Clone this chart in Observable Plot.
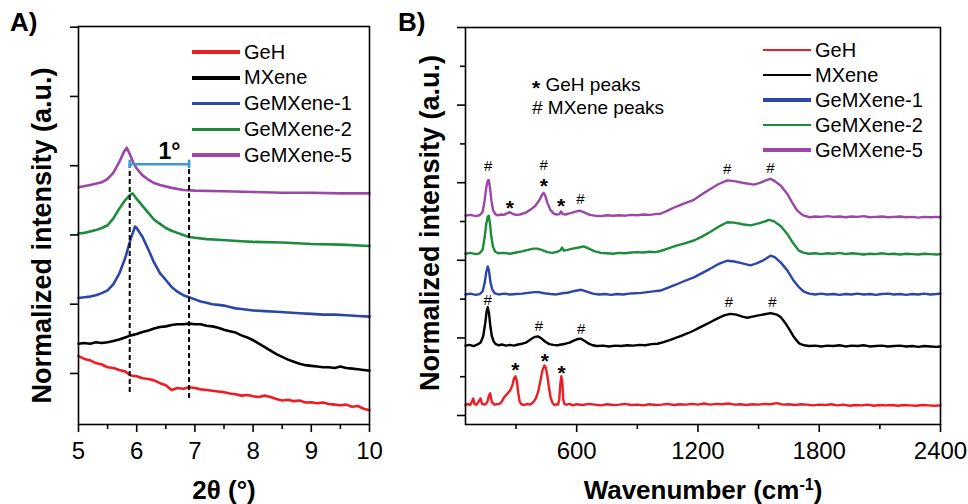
<!DOCTYPE html>
<html>
<head>
<meta charset="utf-8">
<script src="https://cdn.jsdelivr.net/npm/d3@7"></script>
<script src="https://cdn.jsdelivr.net/npm/@observablehq/plot@0.6"></script>
<style>
  body { margin: 0; background: #fff; }
  #fig { position: relative; width: 968px; height: 504px; overflow: hidden;
         font-family: "Liberation Sans", Arial, sans-serif; color: #000; }
  .panel { position: absolute; top: 0; }
  .plabel { position: absolute; font-weight: bold; font-size: 26px; line-height: 1; }
  .legrow { position: absolute; height: 24px; display: flex; align-items: center;
            font-size: 20px; white-space: nowrap; }
  .legrow .sw { display: inline-block; width: 48px; margin-right: 4px; }
  .note { position: absolute; font-size: 19px; line-height: 20px; height: 20px; white-space: nowrap; }
</style>
</head>
<body>
<div id="fig"></div>
<script>
// ---- series names and colours ----
const seriesNames = ["GeH", "MXene", "GeMXene-1", "GeMXene-2", "GeMXene-5"];
const seriesColors = ["#ee1d23", "#000000", "#2c46a8", "#1c8c3c", "#9c46a8"];

// ---- (A) XRD patterns: [2θ (°), offset normalized intensity] ----
const xrdGeH = [[5.0,1.25],[5.1,1.21],[5.2,1.19],[5.3,1.15],[5.4,1.13],[5.5,1.09],[5.6,1.08],[5.7,1.05],[5.8,1.03],[5.9,0.97],
  [6.0,0.96],[6.1,0.93],[6.2,0.92],[6.3,0.90],[6.4,0.86],[6.5,0.83],[6.6,0.76],[6.7,0.79],[6.8,0.78],[6.9,0.80],
  [7.0,0.79],[7.1,0.77],[7.2,0.76],[7.3,0.75],[7.4,0.74],[7.5,0.73],[7.6,0.71],[7.7,0.70],[7.8,0.68],[7.9,0.69],
  [8.0,0.67],[8.1,0.66],[8.2,0.68],[8.3,0.66],[8.4,0.63],[8.5,0.61],[8.6,0.62],[8.7,0.60],[8.8,0.61],[8.9,0.58],
  [9.0,0.585],[9.1,0.57],[9.2,0.58],[9.3,0.56],[9.4,0.55],[9.5,0.54],[9.6,0.55],[9.7,0.52],[9.8,0.53],[9.9,0.49],[10.0,0.47]];
const xrdMXene = [[5.0,1.43],[5.1,1.44],[5.2,1.43],[5.3,1.45],[5.4,1.44],[5.5,1.45],[5.6,1.47],[5.7,1.49],[5.8,1.52],[5.9,1.55],
  [6.0,1.57],[6.1,1.60],[6.2,1.62],[6.3,1.65],[6.4,1.67],[6.5,1.68],[6.6,1.70],[6.7,1.71],[6.8,1.71],[6.9,1.72],
  [7.0,1.71],[7.1,1.71],[7.2,1.69],[7.3,1.68],[7.4,1.66],[7.5,1.63],[7.6,1.61],[7.7,1.59],[7.8,1.55],[7.9,1.52],
  [8.0,1.48],[8.1,1.43],[8.2,1.38],[8.3,1.33],[8.4,1.28],[8.5,1.24],[8.6,1.20],[8.7,1.17],[8.8,1.14],[8.9,1.12],
  [9.0,1.11],[9.1,1.10],[9.2,1.09],[9.3,1.09],[9.4,1.08],[9.5,1.10],[9.6,1.08],[9.7,1.07],[9.8,1.06],[9.9,1.05],[10.0,1.04]];
const xrdGeMX1 = [[5.0,2.09],[5.1,2.10],[5.2,2.11],[5.3,2.13],[5.4,2.16],[5.5,2.20],[5.6,2.29],[5.7,2.44],[5.8,2.66],[5.9,2.95],
  [5.97,3.12],[6.0,3.10],[6.1,2.97],[6.2,2.79],[6.3,2.60],[6.4,2.45],[6.5,2.35],[6.6,2.25],[6.7,2.18],[6.8,2.13],
  [6.9,2.10],[7.0,2.07],[7.1,2.04],[7.2,2.02],[7.3,2.00],[7.4,1.99],[7.5,1.98],[7.6,1.96],[7.7,1.94],[7.8,1.93],
  [7.9,1.92],[8.0,1.91],[8.2,1.90],[8.4,1.89],[8.6,1.88],[8.8,1.87],[9.0,1.86],[9.2,1.85],[9.4,1.85],[9.6,1.84],[9.8,1.83],[10.0,1.82]];
const xrdGeMX2 = [[5.0,3.02],[5.1,3.03],[5.2,3.05],[5.3,3.07],[5.4,3.10],[5.5,3.14],[5.6,3.24],[5.7,3.38],[5.8,3.50],[5.9,3.59],
  [5.93,3.60],[6.0,3.52],[6.1,3.42],[6.2,3.32],[6.3,3.22],[6.4,3.16],[6.5,3.10],[6.6,3.06],[6.7,3.03],[6.8,3.00],
  [6.9,2.97],[7.0,2.96],[7.2,2.94],[7.4,2.93],[7.6,2.92],[7.8,2.91],[8.0,2.90],[8.5,2.89],[9.0,2.87],[9.5,2.86],[10.0,2.84]];
const xrdGeMX5 = [[5.0,3.69],[5.2,3.72],[5.4,3.76],[5.5,3.81],[5.6,3.90],[5.7,4.05],[5.78,4.20],[5.83,4.26],[5.88,4.17],[5.95,4.03],
  [6.0,3.96],[6.1,3.86],[6.2,3.80],[6.3,3.75],[6.4,3.72],[6.6,3.68],[6.8,3.65],[7.0,3.64],[7.5,3.63],[8.0,3.62],
  [8.5,3.61],[9.0,3.61],[9.5,3.60],[10.0,3.60]];

// interlayer-shift guide: two dashed positions and the bracket between them
const shiftGuides = [{x: 5.88, y1: 0.725, y2: 4.02}, {x: 6.9, y1: 0.64, y2: 4.02}];
const shiftBracket = {x1: 5.88, x2: 6.9, y: 4.02, label: "1°"};

// ---- (B) Raman spectra: [wavenumber (cm-1), offset normalized intensity] ----
const ramanGeH = [[50,0.27],[62,0.30],[72,0.27],[80,0.33],[88,0.44],[95,0.29],[105,0.28],[115,0.36],[124,0.44],[132,0.30],
  [145,0.28],[158,0.34],[166,0.52],[172,0.57],[180,0.35],[192,0.28],[205,0.29],[218,0.30],[230,0.36],[240,0.46],
  [250,0.52],[260,0.58],[272,0.66],[282,0.78],[290,0.95],[297,1.01],[304,0.90],[311,0.58],[318,0.36],[326,0.29],
  [340,0.27],[355,0.30],[370,0.28],[385,0.34],[398,0.44],[410,0.62],[421,0.90],[430,1.15],[440,1.29],[447,1.24],
  [455,1.02],[463,0.72],[471,0.47],[480,0.33],[490,0.27],[500,0.29],[508,0.28],[514,0.42],[519,0.80],[524,1.01],
  [529,0.85],[534,0.40],[540,0.29],[552,0.28],[565,0.30],[580,0.26],[600,0.29],[630,0.27],[660,0.30],[690,0.28],
  [720,0.26],[750,0.29],[780,0.27],[810,0.28],[840,0.30],[870,0.27],[900,0.28],[930,0.26],[960,0.29],[990,0.27],
  [1020,0.28],[1050,0.30],[1080,0.27],[1110,0.29],[1140,0.28],[1170,0.30],[1200,0.28],[1230,0.31],[1260,0.28],[1290,0.30],
  [1320,0.29],[1350,0.31],[1380,0.28],[1410,0.29],[1440,0.27],[1470,0.29],[1500,0.28],[1530,0.30],[1560,0.29],[1590,0.32],
  [1620,0.28],[1650,0.29],[1680,0.27],[1710,0.29],[1740,0.28],[1770,0.26],[1800,0.28],[1830,0.27],[1860,0.29],[1890,0.26],
  [1920,0.28],[1950,0.25],[1980,0.27],[2010,0.26],[2040,0.28],[2070,0.25],[2100,0.27],[2130,0.26],[2160,0.27],[2190,0.25],
  [2220,0.27],[2250,0.26],[2280,0.25],[2310,0.27],[2340,0.26],[2370,0.25],[2400,0.26]];
const ramanMXene = [[50,1.80],[70,1.82],[90,1.79],[110,1.83],[125,1.88],[138,2.05],[148,2.40],[155,2.70],[160,2.79],[166,2.65],
  [173,2.30],[180,2.05],[190,1.90],[200,1.84],[215,1.81],[230,1.83],[250,1.80],[270,1.82],[290,1.80],[310,1.83],
  [330,1.85],[350,1.88],[370,1.95],[390,2.02],[408,2.04],[425,1.99],[445,1.90],[465,1.84],[485,1.82],[505,1.81],
  [525,1.83],[545,1.85],[565,1.88],[585,1.93],[605,1.97],[622,1.98],[640,1.92],[660,1.85],[680,1.81],[700,1.79],
  [730,1.80],[760,1.78],[790,1.80],[820,1.79],[850,1.81],[880,1.80],[910,1.82],[940,1.81],[970,1.84],[1000,1.85],
  [1030,1.89],[1060,1.94],[1090,2.00],[1120,2.06],[1150,2.12],[1180,2.19],[1210,2.27],[1240,2.35],[1270,2.43],[1300,2.51],
  [1330,2.58],[1360,2.62],[1390,2.60],[1420,2.55],[1444,2.52],[1470,2.55],[1500,2.58],[1530,2.61],[1560,2.64],[1590,2.60],
  [1610,2.53],[1630,2.40],[1650,2.24],[1675,2.02],[1700,1.86],[1725,1.81],[1750,1.79],[1780,1.80],[1810,1.78],[1840,1.80],
  [1870,1.79],[1900,1.81],[1930,1.78],[1960,1.80],[1990,1.79],[2020,1.81],[2050,1.78],[2080,1.79],[2110,1.80],[2140,1.78],
  [2170,1.79],[2200,1.80],[2230,1.78],[2260,1.79],[2290,1.77],[2320,1.79],[2350,1.78],[2380,1.77],[2400,1.78]];
const ramanGeMX1 = [[50,3.12],[75,3.14],[100,3.11],[120,3.13],[135,3.20],[145,3.42],[153,3.70],[160,3.84],[166,3.74],[173,3.45],
  [182,3.25],[195,3.15],[215,3.12],[240,3.14],[270,3.12],[300,3.13],[330,3.14],[360,3.16],[390,3.18],[410,3.18],
  [440,3.15],[470,3.13],[500,3.12],[530,3.15],[560,3.17],[590,3.21],[622,3.24],[650,3.19],[680,3.14],[710,3.12],
  [740,3.13],[770,3.11],[800,3.13],[830,3.12],[860,3.14],[890,3.15],[920,3.16],[950,3.18],[980,3.20],[1015,3.22],
  [1050,3.29],[1090,3.37],[1130,3.46],[1180,3.56],[1220,3.67],[1260,3.78],[1300,3.90],[1345,3.99],[1380,3.97],[1420,3.92],
  [1460,3.87],[1490,3.92],[1520,3.99],[1559,4.12],[1580,4.08],[1610,3.94],[1642,3.74],[1670,3.50],[1699,3.31],[1725,3.19],
  [1750,3.14],[1780,3.12],[1810,3.14],[1840,3.12],[1870,3.13],[1900,3.11],[1930,3.13],[1960,3.12],[1990,3.14],[2020,3.12],
  [2050,3.13],[2080,3.11],[2110,3.13],[2140,3.14],[2170,3.12],[2200,3.13],[2230,3.11],[2260,3.13],[2290,3.12],[2320,3.14],
  [2350,3.12],[2380,3.13],[2400,3.14]];
const ramanGeMX2 = [[50,4.17],[75,4.19],[100,4.16],[120,4.18],[135,4.28],[145,4.60],[153,4.95],[160,5.12],[165,5.15],[171,4.95],
  [178,4.60],[186,4.35],[197,4.22],[215,4.18],[240,4.19],[270,4.17],[300,4.20],[330,4.23],[360,4.27],[385,4.30],
  [405,4.30],[430,4.26],[455,4.21],[480,4.19],[505,4.22],[520,4.26],[528,4.33],[536,4.25],[555,4.27],[580,4.30],
  [610,4.33],[635,4.36],[660,4.30],[690,4.23],[720,4.19],[750,4.18],[780,4.17],[810,4.19],[840,4.18],[870,4.20],
  [900,4.21],[930,4.20],[960,4.22],[990,4.21],[1015,4.24],[1050,4.30],[1090,4.37],[1130,4.43],[1180,4.51],[1220,4.61],
  [1260,4.73],[1300,4.86],[1345,4.98],[1380,4.97],[1420,4.93],[1460,4.90],[1500,4.95],[1530,5.00],[1551,5.04],[1575,5.01],
  [1610,4.88],[1642,4.68],[1670,4.45],[1699,4.25],[1725,4.19],[1750,4.17],[1780,4.18],[1810,4.16],[1840,4.18],[1870,4.17],
  [1900,4.19],[1930,4.16],[1960,4.18],[1990,4.17],[2020,4.15],[2050,4.17],[2080,4.16],[2110,4.18],[2140,4.16],[2170,4.17],
  [2200,4.15],[2230,4.17],[2260,4.16],[2290,4.15],[2320,4.17],[2350,4.16],[2380,4.15],[2400,4.16]];
const ramanGeMX5 = [[50,5.15],[75,5.17],[100,5.14],[120,5.16],[135,5.25],[145,5.55],[153,5.88],[160,6.05],[165,6.07],[171,5.88],
  [178,5.55],[186,5.30],[197,5.19],[210,5.16],[225,5.18],[240,5.17],[255,5.21],[269,5.24],[282,5.20],[300,5.17],
  [320,5.18],[345,5.22],[370,5.30],[395,5.40],[415,5.55],[430,5.70],[437,5.74],[445,5.66],[455,5.48],[470,5.30],
  [485,5.21],[500,5.18],[515,5.19],[523,5.26],[531,5.19],[545,5.18],[565,5.21],[590,5.25],[615,5.28],[640,5.23],
  [665,5.17],[690,5.15],[720,5.14],[750,5.16],[780,5.15],[810,5.16],[840,5.15],[870,5.17],[900,5.16],[930,5.18],
  [960,5.17],[990,5.19],[1015,5.20],[1050,5.28],[1090,5.38],[1130,5.46],[1180,5.56],[1220,5.70],[1262,5.84],[1300,5.96],
  [1345,6.06],[1380,6.04],[1420,6.00],[1477,5.95],[1510,6.00],[1535,6.06],[1559,6.10],[1580,6.04],[1610,5.92],[1642,5.71],
  [1665,5.50],[1691,5.28],[1720,5.16],[1754,5.11],[1780,5.13],[1810,5.12],[1840,5.14],[1870,5.12],[1900,5.13],[1930,5.11],
  [1960,5.13],[1990,5.12],[2020,5.14],[2050,5.11],[2080,5.12],[2110,5.13],[2140,5.11],[2170,5.12],[2200,5.13],[2230,5.11],
  [2260,5.12],[2290,5.10],[2320,5.12],[2350,5.11],[2380,5.12],[2400,5.11]];

// peak assignments: # = MXene, * = GeH  ([wavenumber, label height])
const mxenePeakMarks = [[162,6.42],[437,6.44],[619,5.58],[1345,6.36],[1559,6.38],
                        [160,2.96],[413,2.30],[622,2.22],[1353,2.92],[1568,2.92]];
const gehPeakMarks = [[269,5.47],[437,6.04],[523,5.52],[297,1.29],[442,1.52],[525,1.23]];

// ---- axis ticks ----
const xrdMajorX = [5, 6, 7, 8, 9, 10];
const xrdMinorX = [5.5, 6.5, 7.5, 8.5, 9.5];
const xrdTicksY = [1, 2, 3, 4, 5, 6];
const ramanMajorX = [600, 1200, 1800, 2400];
const ramanMinorX = [300, 900, 1500, 2100];
const ramanMajorY = [0, 2, 4, 6, 8, 10];
const ramanMinorY = [1, 3, 5, 7, 9];

const FONT = '"Liberation Sans", Arial, sans-serif';
const colorScale = {domain: seriesNames, range: seriesColors, legend: false};
const plain = d => String(d);
const blank = () => "";

function toRows(lists) {
  return lists.flatMap((pts, i) => pts.map(([x, y]) => ({series: seriesNames[i], x, y})));
}
const xrdRows = toRows([xrdGeH, xrdMXene, xrdGeMX1, xrdGeMX2, xrdGeMX5]);
const ramanRows = toRows([ramanGeH, ramanMXene, ramanGeMX1, ramanGeMX2, ramanGeMX5]);

const fig = document.getElementById("fig");

// ---------- panel A ----------
const plotA = Plot.plot({
  width: 400, height: 504,
  marginLeft: 78, marginRight: 31, marginTop: 26, marginBottom: 80,
  style: {fontFamily: FONT, color: "#000", background: "transparent", overflow: "visible"},
  x: {domain: [5, 10], label: null},
  y: {domain: [0.263, 6.01], label: null},
  color: colorScale,
  marks: [
    Plot.line(xrdRows, {x: "x", y: "y", z: "series", stroke: "series", strokeWidth: 2.6}),
    Plot.ruleX(shiftGuides, {x: "x", y1: "y1", y2: "y2", stroke: "#000", strokeWidth: 2, strokeDasharray: "5,3"}),
    Plot.ruleY([shiftBracket], {x1: "x1", x2: "x2", y: "y", stroke: "#3b9ad6", strokeWidth: 2.5}),
    Plot.ruleX([shiftBracket.x1, shiftBracket.x2], {x: d => d, y1: shiftBracket.y - 0.06, y2: shiftBracket.y + 0.06, stroke: "#3b9ad6", strokeWidth: 2.5}),
    Plot.text([shiftBracket], {x: d => (d.x1 + d.x2) / 2, y: "y", text: "label", dx: 10, dy: -13, fontSize: 23, fontWeight: "bold", fill: "#000"}),
    Plot.frame({stroke: "#000", strokeWidth: 1.6}),
    Plot.axisX({ticks: xrdMajorX, tickFormat: plain, tickSize: 8, tickPadding: 9, fontSize: 24, strokeWidth: 1.6, label: null}),
    Plot.axisX({ticks: xrdMinorX, tickFormat: blank, tickSize: 5, strokeWidth: 1.6, label: null}),
    Plot.axisY({ticks: xrdTicksY, tickFormat: blank, tickSize: 8, strokeWidth: 1.6, label: null}),
    Plot.text(["Normalized intensity (a.u.)"], {frameAnchor: "left", textAnchor: "middle", lineAnchor: "middle", dx: -36, dy: 10, rotate: -90, fontSize: 27, fontWeight: "bold", fill: "#000"}),
    Plot.text(["2θ (°)"], {frameAnchor: "bottom", textAnchor: "middle", lineAnchor: "middle", dy: 66, fontSize: 26, fontWeight: "bold", fill: "#000"})
  ]
});
plotA.classList.add("panel");
plotA.style.left = "0px";
fig.appendChild(plotA);

// ---------- panel B ----------
const plotB = Plot.plot({
  width: 568, height: 504,
  marginLeft: 65, marginRight: 28, marginTop: 27, marginBottom: 80,
  style: {fontFamily: FONT, color: "#000", background: "transparent", overflow: "visible"},
  x: {domain: [50, 2400], label: null},
  y: {domain: [-0.232, 10], label: null},
  color: colorScale,
  marks: [
    Plot.line(ramanRows, {x: "x", y: "y", z: "series", stroke: "series", strokeWidth: 2.4}),
    Plot.text(mxenePeakMarks, {x: d => d[0], y: d => d[1], text: () => "#", fontSize: 15, fill: "#000"}),
    Plot.text(gehPeakMarks, {x: d => d[0], y: d => d[1], text: () => "*", fontSize: 21, fontWeight: "bold", dy: 5, fill: "#000"}),
    Plot.frame({stroke: "#000", strokeWidth: 1.6}),
    Plot.axisX({ticks: ramanMajorX, tickFormat: plain, tickSize: 8, tickPadding: 9, fontSize: 24, strokeWidth: 1.6, label: null}),
    Plot.axisX({ticks: ramanMinorX, tickFormat: blank, tickSize: 5, strokeWidth: 1.6, label: null}),
    Plot.axisY({ticks: ramanMajorY, tickFormat: blank, tickSize: 8, strokeWidth: 1.6, label: null}),
    Plot.axisY({ticks: ramanMinorY, tickFormat: blank, tickSize: 5, strokeWidth: 1.6, label: null}),
    Plot.text(["Normalized intensity (a.u.)"], {frameAnchor: "left", textAnchor: "middle", lineAnchor: "middle", dx: -35, dy: -3, rotate: -90, fontSize: 27, fontWeight: "bold", fill: "#000"}),
    Plot.text(["Wavenumber (cm-1)"], {frameAnchor: "bottom", textAnchor: "middle", lineAnchor: "middle", dy: 66, fontSize: 26, fontWeight: "bold", fill: "#000"})
  ]
});
plotB.classList.add("panel");
plotB.style.left = "400px";
fig.appendChild(plotB);

// superscript the unit exponent in the wavenumber title
d3.select(plotB).selectAll("text")
  .filter(function () { return this.textContent === "Wavenumber (cm-1)"; })
  .each(function () {
    const t = d3.select(this);
    t.text("Wavenumber (cm");
    t.append("tspan").attr("dy", "-0.55em").attr("font-size", "0.62em").text("-1");
    t.append("tspan").attr("dy", "0.34em").text(")");
  });

// ---------- panel letters ----------
[["A)", 10], ["B)", 398]].forEach(([s, left]) => {
  const d = document.createElement("div");
  d.className = "plabel";
  d.textContent = s;
  d.style.left = left + "px";
  d.style.top = "9px";
  fig.appendChild(d);
});

// ---------- legends ----------
function legend(left, top0, step, widths) {
  seriesNames.forEach((name, i) => {
    const row = document.createElement("div");
    row.className = "legrow";
    row.style.left = left + "px";
    row.style.top = (top0 + i * step - 12) + "px";
    const sw = document.createElement("span");
    sw.className = "sw";
    sw.style.height = widths[i] + "px";
    sw.style.background = seriesColors[i];
    row.appendChild(sw);
    row.appendChild(document.createTextNode(name));
    fig.appendChild(row);
  });
}
legend(192, 52, 25.8, [3.5, 3.5, 3.5, 3.5, 3.5]);
legend(763, 50, 25, [2, 2.5, 4, 2.5, 3.2]);

// ---------- peak key ----------
[["*", " GeH peaks", 85], ["#", " MXene peaks", 108]].forEach(([sym, txt, cy]) => {
  const d = document.createElement("div");
  d.className = "note";
  d.style.left = "532px";
  d.style.top = (cy - 10) + "px";
  const s = document.createElement("span");
  s.textContent = sym;
  if (sym === "*") { s.style.fontWeight = "bold"; s.style.fontSize = "21px"; s.style.verticalAlign = "-4px"; }
  d.appendChild(s);
  d.appendChild(document.createTextNode(txt));
  fig.appendChild(d);
});
</script>
</body>
</html>
